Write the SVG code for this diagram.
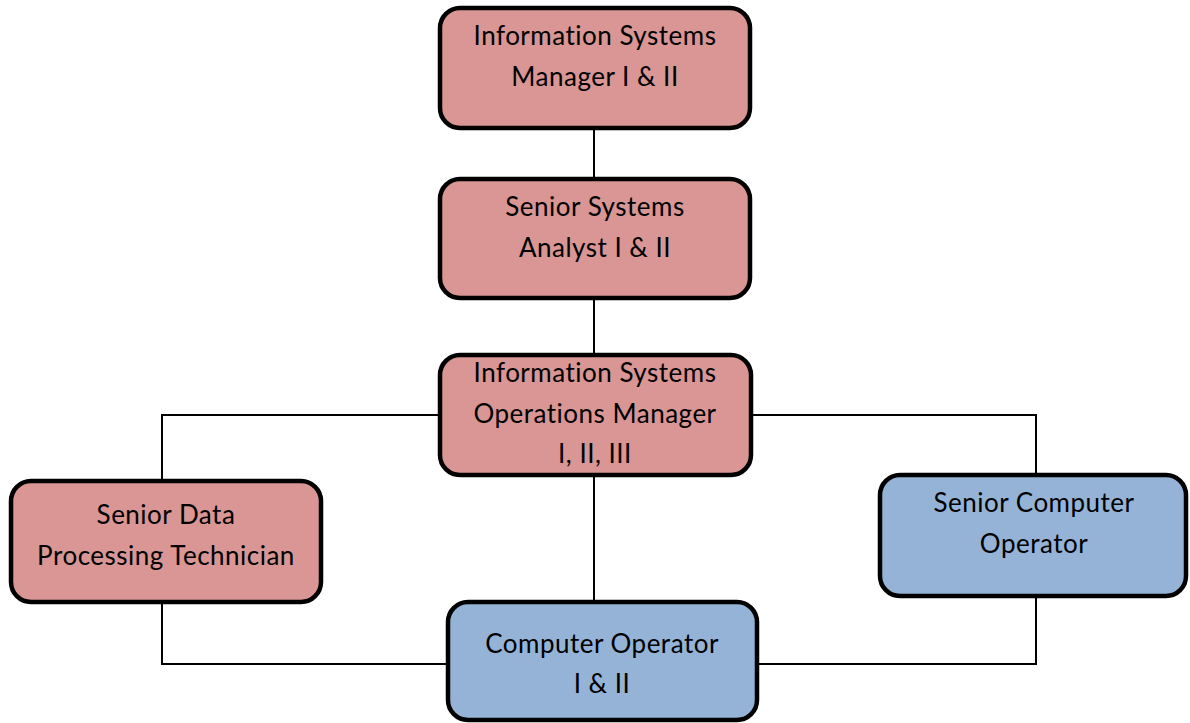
<svg xmlns="http://www.w3.org/2000/svg" width="1190" height="723" viewBox="0 0 1190 723">
<style>
.box{stroke:#000;stroke-width:4.5;}
.red{fill:#D99694;}
.blue{fill:#95B3D7;}
.lbl{font-family:Lato,"Liberation Sans",sans-serif;font-size:26px;letter-spacing:0.5px;font-variant-ligatures:none;fill:#000;text-anchor:middle;}
.conn{fill:none;stroke:#000;stroke-width:2;}
</style>
<rect width="1190" height="723" fill="#fff"/>
<g id="connectors">
<line class="conn" x1="594" y1="128" x2="594" y2="180"/>
<line class="conn" x1="594" y1="298" x2="594" y2="355"/>
<polyline class="conn" points="440,415 162,415 162,481"/>
<polyline class="conn" points="751,415 1036,415 1036,475"/>
<line class="conn" x1="594" y1="475" x2="594" y2="602"/>
<polyline class="conn" points="162,602 162,664 448,664"/>
<polyline class="conn" points="1036,596 1036,664 757,664"/>
</g>
<g id="n1">
<rect class="box red" x="440" y="8" width="310" height="120" rx="20"/>
<text class="lbl" x="595" y="45">Information Systems</text>
<text class="lbl" x="595" y="86">Manager I &amp; II</text>
</g>
<g id="n2">
<rect class="box red" x="440" y="179" width="310" height="119" rx="20"/>
<text class="lbl" x="595" y="216">Senior Systems</text>
<text class="lbl" x="595" y="257">Analyst I &amp; II</text>
</g>
<g id="n3">
<rect class="box red" x="440" y="355" width="311" height="120" rx="20"/>
<text class="lbl" x="595" y="382">Information Systems</text>
<text class="lbl" x="595" y="423">Operations Manager</text>
<text class="lbl" x="595" y="463">I, II, III</text>
</g>
<g id="n4">
<rect class="box red" x="11" y="481" width="310" height="121" rx="20"/>
<text class="lbl" x="166" y="524">Senior Data</text>
<text class="lbl" x="166" y="565">Processing Technician</text>
</g>
<g id="n5">
<rect class="box blue" x="880" y="475" width="306" height="121" rx="20"/>
<text class="lbl" x="1034" y="512">Senior Computer</text>
<text class="lbl" x="1034" y="553">Operator</text>
</g>
<g id="n6">
<rect class="box blue" x="448" y="602" width="309" height="118" rx="20"/>
<text class="lbl" x="602" y="653">Computer Operator</text>
<text class="lbl" x="602" y="693">I &amp; II</text>
</g>
</svg>
